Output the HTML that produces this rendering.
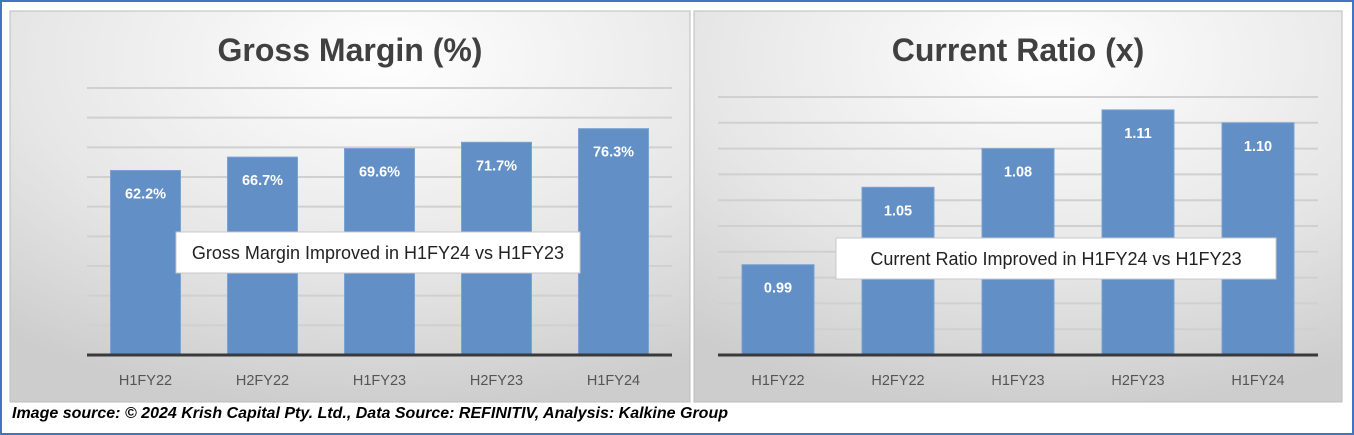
<!DOCTYPE html>
<html><head><meta charset="utf-8"><style>
html,body{margin:0;padding:0;background:#fff;}
body{width:1354px;height:435px;position:relative;overflow:hidden;font-family:"Liberation Sans",sans-serif;}
#frame{position:absolute;left:0;top:0;width:1350px;height:431px;border:2px solid #4472C4;}
svg{position:absolute;left:0;top:0;}
#footer{position:absolute;left:12px;top:405px;font-size:16px;font-weight:bold;font-style:italic;color:#000;white-space:nowrap;}
</style></head><body>
<div id="frame"></div>
<svg id="chart" width="1354" height="435">
<defs>
<radialGradient id="bg" cx="0.55" cy="0.12" r="0.9">
<stop offset="0" stop-color="#ffffff"/><stop offset="0.6" stop-color="#e6e6e6"/><stop offset="1" stop-color="#cdcdcd"/>
</radialGradient>
</defs>
</svg>
<div id="footer">Image source: © 2024 Krish Capital Pty. Ltd., Data Source: REFINITIV, Analysis: Kalkine Group</div>
<script>
const categories = ["H1FY22","H2FY22","H1FY23","H2FY23","H1FY24"];
const grossMargin = [62.2,66.7,69.6,71.7,76.3];
const gmLabels = ["62.2%","66.7%","69.6%","71.7%","76.3%"];
const currentRatio = [0.99,1.05,1.08,1.11,1.10];
const crLabels = ["0.99","1.05","1.08","1.11","1.10"];
const gmTicks = [0,10,20,30,40,50,60,70,80,90];
const crTicks = [0.92,0.94,0.96,0.98,1.00,1.02,1.04,1.06,1.08,1.10,1.12];

const NS="http://www.w3.org/2000/svg";
const svg=document.getElementById('chart');
function mk(tag,attrs,parent){const e=document.createElementNS(NS,tag);for(const k in attrs)e.setAttribute(k,attrs[k]);(parent||svg).appendChild(e);return e;}

function panel(cfg){
  const g=mk('g',{});
  
  
  const bg=mk('rect',{x:cfg.px,y:11,width:cfg.pw,height:391,fill:'url(#bg)',stroke:'#bdbdbd','stroke-width':1},g);
  
  
  const t=mk('text',{x:cfg.px+cfg.pw/2+cfg.toff,y:61,'text-anchor':'middle','font-size':32,'font-weight':'bold',fill:'#404040'},g);
  t.textContent=cfg.title;
  
  
  const y=v=>cfg.y0-(v-cfg.min)/(cfg.max-cfg.min)*(cfg.y0-cfg.y1);
  const bw=(cfg.x1-cfg.x0)/categories.length;
  cfg.ticks.forEach((tv,i)=>{
    if(i===0)return;
    const l=mk('line',{x1:cfg.x0,x2:cfg.x1,y1:y(tv),y2:y(tv),stroke:'#d0d0d0','stroke-width':2},g);
    
    
  });
  cfg.vals.forEach((v,i)=>{
    const cx=cfg.x0+bw*(i+0.5);
    const r=mk('rect',{x:cx-cfg.barW/2,y:y(v),width:cfg.barW,height:cfg.y0-y(v),fill:'#628FC6',stroke:'#7aa2d2','stroke-width':1},g);
    
    
    const lt=mk('text',{x:cx,y:y(v)+28,'text-anchor':'middle','font-size':14.5,'font-weight':'bold',fill:'#fff'},g);
    lt.textContent=cfg.labels[i];
    
    
    const xl=mk('text',{x:cx,y:385,'text-anchor':'middle','font-size':14.5,fill:'#555'},g);
    xl.textContent=categories[i];
    
    
  });
  const ax=mk('line',{x1:cfg.x0,x2:cfg.x1,y1:cfg.y0,y2:cfg.y0,stroke:'#3a3a3a','stroke-width':3},g);
  
  
  const box=mk('rect',{x:cfg.bx,y:cfg.by,width:cfg.bwid,height:41,fill:'#fff',stroke:'#c8c8c8','stroke-width':1},g);
  
  
  const bt=mk('text',{x:cfg.bx+cfg.bwid/2,y:cfg.by+27,'text-anchor':'middle','font-size':18,fill:'#222'},g);
  bt.textContent=cfg.note;
  
  
}
panel({name:'gross-margin-chart',px:10,pw:680,toff:0,title:'Gross Margin (%)',x0:87,x1:672,y0:355,y1:88,min:0,max:90,
  ticks:gmTicks,vals:grossMargin,labels:gmLabels,barW:70,bx:176,by:232,bwid:404,note:'Gross Margin Improved in H1FY24 vs H1FY23'});
panel({name:'current-ratio-chart',px:694,pw:648,toff:0,title:'Current Ratio (x)',x0:718,x1:1318,y0:355,y1:97,min:0.92,max:1.12,
  ticks:crTicks,vals:currentRatio,labels:crLabels,barW:72,bx:836,by:238,bwid:440,note:'Current Ratio Improved in H1FY24 vs H1FY23'});
</script>
</body></html>
